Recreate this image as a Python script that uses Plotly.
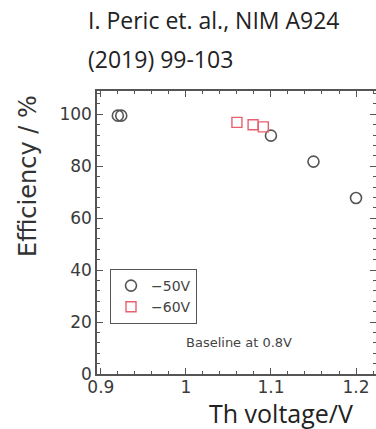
import plotly.graph_objects as go

# Data
v50_x = [0.920, 0.924, 1.100, 1.150, 1.200]
v50_y = [99.5, 99.5, 91.8, 81.8, 67.8]
v60_x = [1.060, 1.079, 1.091]
v60_y = [96.9, 96.0, 95.2]
series_names = ["\u221250V", "\u221260V"]
x_ticks = [0.9, 1.0, 1.1, 1.2]
x_ticklabels = ["0.9", "1", "1.1", "1.2"]
y_ticks = [0, 20, 40, 60, 80, 100]

W, H = 376, 429
L, R, T, B = 97, 0, 91, 55
PW, PH = W - L - R, H - T - B

def px(xp):
    return (xp - L) / PW

def py(yp):
    return (H - B - yp) / PH

fig = go.Figure()
fig.add_trace(go.Scatter(
    x=v50_x, y=v50_y, mode="markers", name=series_names[0],
    marker=dict(symbol="circle-open", size=11, color="#555555", line=dict(width=1.6)),
))
fig.add_trace(go.Scatter(
    x=v60_x, y=v60_y, mode="markers", name=series_names[1],
    marker=dict(symbol="square-open", size=10, color="#e8606e", line=dict(width=1.4)),
))

axis_common = dict(
    showline=True, linecolor="#555555", linewidth=1.5, mirror="ticks",
    ticks="inside", ticklen=6, tickwidth=1.2, tickcolor="#555555",
    showgrid=False, zeroline=False, automargin=False,
    tickfont=dict(family="DejaVu Sans", size=17, color="#3a3a3a"),
)

fig.update_xaxes(range=[0.8955, 1.2235], tickvals=x_ticks, ticktext=x_ticklabels,
                 minor=dict(dtick=0.02, tick0=0.9, ticks="inside", ticklen=3, tickcolor="#555555"),
                 ticklabelstandoff=-3, **axis_common)
fig.update_yaxes(range=[0, 109], tickvals=y_ticks,
                 minor=dict(dtick=4, tick0=0, ticks="inside", ticklen=3, tickcolor="#555555"),
                 ticklabelstandoff=0, **axis_common)

fig.update_layout(
    width=W, height=H,
    margin=dict(l=L, r=R, t=T, b=B, pad=0, autoexpand=False),
    paper_bgcolor="white", plot_bgcolor="white",
    showlegend=True,
    legend=dict(x=px(110), y=py(269), xanchor="left", yanchor="top",
                bgcolor="white", bordercolor="#555555", borderwidth=1,
                font=dict(family="DejaVu Sans", size=14, color="#444444"),
                itemwidth=30, tracegroupgap=0),
    annotations=[
        dict(text="I. Peric et. al., NIM A924", xref="paper", yref="paper",
             x=px(86), y=py(20), xanchor="left", yanchor="middle",
             showarrow=False, align="left",
             font=dict(family="Open Sans", size=23, color="#222222")),
        dict(text="(2019) 99-103", xref="paper", yref="paper",
             x=px(86), y=py(59), xanchor="left", yanchor="middle",
             showarrow=False, align="left",
             font=dict(family="Open Sans", size=23, color="#222222")),
        dict(text="Th voltage/V", xref="paper", yref="paper",
             x=px(207), y=py(413), xanchor="left", yanchor="middle",
             showarrow=False, font=dict(family="Open Sans", size=25, color="#222222")),
        dict(text="Efficiency / %", xref="paper", yref="paper", textangle=-90,
             x=px(28), y=py(176), xanchor="center", yanchor="middle",
             showarrow=False, font=dict(family="DejaVu Sans", size=24, color="#333333")),
        dict(text="Baseline at 0.8V", xref="paper", yref="paper",
             x=px(239), y=py(342), xanchor="center", yanchor="middle",
             showarrow=False, font=dict(family="DejaVu Sans", size=13, color="#444444")),
    ],
)

fig.write_html("out.html")
